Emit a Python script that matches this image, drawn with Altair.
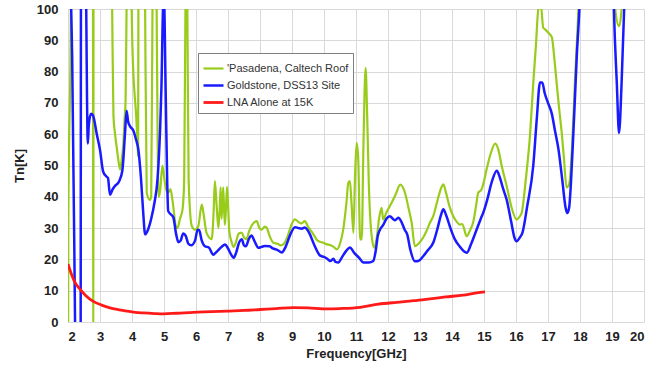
import altair as alt
import pandas as pd

# ---- data ----
series_names = ["'Pasadena, Caltech Roof", "Goldstone, DSS13 Site", "LNA Alone at 15K"]
series_colors = ["#99cc1a", "#1a1aff", "#ff1a1a"]

pas_f = [2.0, 2.005, 2.01, 2.09, 2.1, 2.78, 2.79, 2.8, 3.35, 3.38, 3.42, 3.47, 3.52, 3.57, 3.63,
         3.68, 3.73, 3.77, 3.8, 3.83, 3.86, 3.96, 3.99, 4.04, 4.08, 4.13, 4.17, 4.19, 4.2, 4.22,
         4.39, 4.41, 4.46, 4.56, 4.6, 4.64, 4.66, 4.75, 4.77, 4.8, 4.83, 4.88, 4.95, 5.02, 5.08,
         5.13, 5.2, 5.25, 5.3, 5.36, 5.42, 5.5, 5.58, 5.63, 5.67, 5.7, 5.73, 5.77, 5.87, 5.97,
         6.07, 6.18, 6.23, 6.33, 6.49, 6.55, 6.59, 6.64, 6.7, 6.74, 6.77, 6.8, 6.85, 6.9, 6.93,
         6.97, 7.0, 7.04, 7.1, 7.17, 7.25, 7.32, 7.38, 7.43, 7.5, 7.58, 7.66, 7.75, 7.9, 7.98,
         8.05, 8.15, 8.21, 8.3, 8.42, 8.55, 8.65, 8.73, 8.85, 8.98, 9.09, 9.2, 9.3, 9.4, 9.5,
         9.6, 9.67, 9.8, 9.98, 10.1, 10.19, 10.3, 10.4, 10.5, 10.6, 10.7, 10.76, 10.81, 10.86,
         10.92, 10.97, 11.02, 11.07, 11.13, 11.18, 11.23, 11.3, 11.35, 11.4, 11.49, 11.57, 11.65,
         11.72, 11.8, 11.85, 11.95, 12.11, 12.25, 12.38, 12.53, 12.65, 12.74, 12.84, 12.95, 13.1,
         13.2, 13.31, 13.42, 13.55, 13.65, 13.73, 13.82, 13.92, 14.04, 14.15, 14.25, 14.32, 14.46,
         14.55, 14.67, 14.75, 14.82, 14.92, 15.0, 15.08, 15.2, 15.35, 15.45, 15.55, 15.71, 15.85,
         16.02, 16.1, 16.18, 16.3, 16.44, 16.54, 16.62, 16.7, 16.78, 16.85, 16.91, 17.0, 17.12,
         17.2, 17.27, 17.35, 17.43, 17.5, 17.58, 17.64, 17.69, 17.77, 17.84, 17.95, 18.05, 19.0,
         19.1, 19.22, 19.3, 19.4]
pas_t = [-20, 0, 33, 100, 130, 130, -30, 130, 130, 100, 66, 60, 56, 52, 48.7,
         52, 57, 65, 71, 100, 130, 130, 100, 80, 73, 66, 58, 53, 100, 130,
         130, 100, 41.3, 39, 40, 100, 130, 130, 100, 60, 40, 42, 50, 45, 42,
         41.3, 42.5, 40, 36, 31, 30, 33, 36, 45, 100, 130, 100, 45, 30.6, 29.5,
         30.6, 37.5, 35, 28.5, 26.5, 35, 45, 38, 30, 36, 43, 33, 43, 31, 35,
         43.2, 38, 29, 26, 24, 25.5, 28, 28.5, 28.5, 27, 26.5, 29, 31, 32.2, 30,
         29.5, 30.5, 30.1, 27.5, 25.3, 25, 24.5, 24.8, 27, 31, 32.8, 32, 31.5, 32.2, 30.5,
         29, 28, 26, 25.3, 24.8, 24.6, 24, 23.2, 25, 29.5, 38, 44.5, 45, 38,
         28.5, 46.6, 57.2, 52, 26.4, 26.4, 55, 81.2, 65.7, 44.5, 27.4, 23.7, 27,
         33, 36.5, 32.7, 35, 38, 41, 43.9, 41.3, 36, 31.7, 24.2, 25, 27,
         29, 31.7, 34, 39, 42.5, 44, 41, 37, 33.8, 32, 31.1, 31.3, 27.4,
         29, 32.2, 37, 41.3, 42.3, 45, 48.7, 53.5, 57, 55, 50, 43.4, 37,
         32.7, 33.5, 35, 45, 60, 76.4, 88, 100, 101, 94, 93.5, 92.5, 91,
         84, 76.4, 68, 60.4, 52, 43, 43.5, 46, 60, 76.4, 100, 130, 130,
         100, 94.5, 100, 130]

gold_f = [2.05, 2.1, 2.13, 2.22, 2.25, 2.39, 2.41, 2.54, 2.57, 2.62, 2.65, 2.72, 2.78, 2.9, 3.0,
          3.1, 3.2, 3.25, 3.31, 3.4, 3.47, 3.6, 3.7, 3.78, 3.83, 3.88, 3.94, 4.05, 4.12, 4.2,
          4.28, 4.35, 4.41, 4.5, 4.6, 4.7, 4.8, 4.88, 4.92, 4.97, 5.0, 5.05, 5.1, 5.13, 5.2,
          5.29, 5.38, 5.45, 5.52, 5.6, 5.68, 5.76, 5.85, 5.97, 6.05, 6.1, 6.18, 6.28, 6.4, 6.54,
          6.65, 6.8, 6.91, 7.0, 7.1, 7.17, 7.25, 7.35, 7.43, 7.5, 7.56, 7.65, 7.74, 7.82, 7.95,
          8.05, 8.15, 8.3, 8.4, 8.55, 8.68, 8.8, 8.95, 9.09, 9.2, 9.3, 9.4, 9.48, 9.56, 9.7,
          9.88, 10.0, 10.1, 10.2, 10.29, 10.36, 10.45, 10.55, 10.7, 10.81, 10.95, 11.1, 11.23,
          11.4, 11.54, 11.62, 11.68, 11.75, 11.85, 11.95, 12.06, 12.15, 12.22, 12.32, 12.42,
          12.52, 12.6, 12.7, 12.84, 12.95, 13.1, 13.25, 13.42, 13.55, 13.65, 13.73, 13.82, 13.95,
          14.09, 14.25, 14.38, 14.46, 14.6, 14.75, 14.9, 14.98, 15.1, 15.25, 15.4, 15.5, 15.6,
          15.71, 15.85, 15.95, 16.02, 16.12, 16.2, 16.35, 16.54, 16.65, 16.75, 16.82, 16.9, 17.0,
          17.12, 17.22, 17.33, 17.45, 17.55, 17.6, 17.66, 17.72, 17.8, 17.84, 17.9, 17.98, 18.05,
          19.0, 19.06, 19.15, 19.22, 19.3, 19.38, 19.45]
gold_t = [130, 100, 85, 0, -30, -40, 140, 140, 100, 57, 63, 66.5, 66, 60, 55,
          48, 46.5, 46, 40.7, 42.5, 43.5, 45, 48.5, 60, 67.5, 64, 62.5, 61, 58.5, 55,
          46, 35, 28, 29.5, 33, 38, 46, 62, 75, 100, 103, 75, 45, 35.5, 34.5,
          33.5, 28, 25.5, 26, 28.3, 27.5, 25, 24.5, 26, 29.5, 29.3, 26, 24.2, 23.8, 21.5,
          22.5, 24, 24.8, 23.5, 21.5, 20.5, 22, 25.5, 26.4, 24.5, 24.2, 26.5, 27.6, 26, 23.7,
          24, 24.3, 24.2, 23.5, 23, 22.2, 24, 28, 30.3, 30, 29.8, 30.2, 29.5, 28, 24.5,
          21.2, 20.8, 20.2, 19.5, 20.2, 19.2, 19, 20.5, 22.8, 23.8, 22, 20.5, 19,
          19, 19.5, 23, 27.5, 29.5, 31, 33, 33.8, 33, 32.5, 33.3, 32,
          29.5, 28, 23, 19.4, 19.5, 21, 23, 25.5, 30, 34, 36, 34, 30,
          26.4, 24, 22.5, 22.1, 25, 29, 33, 35, 39, 45, 48.3, 46, 42.5,
          39, 32, 27, 25.8, 27, 28.5, 37, 50, 65, 76.5, 76.5, 73, 70,
          66.5, 61, 55, 45, 36.5, 34.8, 36.5, 45, 62, 71, 85, 100, 120,
          130, 100, 76.4, 60.4, 76.4, 100, 130]

lna_f = [2.0, 2.1, 2.2, 2.38, 2.55, 2.79, 3.05, 3.31, 3.6, 3.83, 4.1, 4.35, 4.7, 4.98, 5.4,
         5.92, 6.5, 6.96, 7.5, 8.0, 8.5, 9.04, 9.5, 10.08, 10.5, 11.13, 11.7, 12.27, 12.8,
         13.31, 13.8, 14.35, 14.77, 15.03]
lna_t = [18.5, 15.5, 13.0, 10.4, 8.5, 6.6, 5.4, 4.5, 3.9, 3.5, 3.1, 2.9, 2.7, 2.6, 2.8,
         3.1, 3.3, 3.5, 3.7, 4.0, 4.3, 4.6, 4.5, 4.2, 4.3, 4.7, 5.7, 6.3, 6.8,
         7.4, 8.0, 8.6, 9.3, 9.6]

x_ticks = list(range(2, 21))
y_ticks = list(range(0, 101, 10))

rows = []
for name, fs, ts in zip(series_names, [pas_f, gold_f, lna_f], [pas_t, gold_t, lna_t]):
    for i, (f, t) in enumerate(zip(fs, ts)):
        rows.append({"series": name, "freq": f, "tn": t, "idx": i})
df = pd.DataFrame(rows)

FONT = "Liberation Sans"

chart = alt.Chart(df).mark_line(clip=True, strokeJoin="round", interpolate="monotone").encode(
    x=alt.X("freq:Q",
            scale=alt.Scale(domain=[2, 20], nice=False, zero=False),
            axis=alt.Axis(values=x_ticks, title="Frequency[GHz]", grid=True, ticks=False,
                          domain=False, labelPadding=8, titlePadding=4,
                          labelFont=FONT, labelFontSize=13, labelFontWeight="bold",
                          labelColor="#222222", titleFont=FONT, titleFontSize=13,
                          titleFontWeight="bold", titleColor="#222222",
                          gridColor="#d9d9d9", gridWidth=1)),
    y=alt.Y("tn:Q",
            scale=alt.Scale(domain=[0, 100], nice=False, zero=False),
            axis=alt.Axis(values=y_ticks, title="Tn[K]", grid=True, ticks=False,
                          domain=False, labelPadding=10, titlePadding=10,
                          labelFont=FONT, labelFontSize=13, labelFontWeight="bold",
                          labelColor="#222222", titleFont=FONT, titleFontSize=13,
                          titleFontWeight="bold", titleColor="#222222",
                          gridColor="#d9d9d9", gridWidth=1)),
    color=alt.Color("series:N",
                    scale=alt.Scale(domain=series_names, range=series_colors),
                    title=None,
                    legend=alt.Legend(orient="none", legendX=130, legendY=44,
                                      symbolType="stroke", symbolSize=400,
                                      symbolStrokeWidth=2.5, rowPadding=-2,
                                      labelFont=FONT, labelFontSize=11,
                                      labelColor="#333333", labelOffset=2,
                                      padding=4, strokeColor="#808080",
                                      fillColor="#ffffff", labelLimit=200)),
    strokeWidth=alt.StrokeWidth("series:N",
                                scale=alt.Scale(domain=series_names, range=[2.2, 2.8, 2.2]),
                                legend=None),
    order=alt.Order("idx:Q"),
).properties(
    width=576,
    height=313,
    autosize=alt.AutoSizeParams(type="none"),
    padding={"left": 68, "top": 9, "right": 24, "bottom": 51},
    background="#ffffff",
).configure_view(stroke=None)

chart.save("out.html", embed_options={"renderer": "svg", "actions": False})
